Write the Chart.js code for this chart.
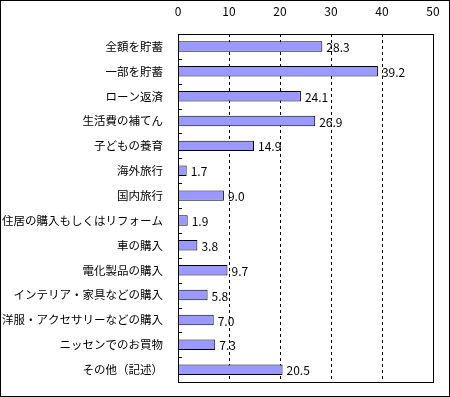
<!DOCTYPE html>
<html><head><meta charset="utf-8">
<script src="https://cdn.jsdelivr.net/npm/chart.js@4"></script>
<style>
html,body{margin:0;padding:0;background:#fff;}
#wrap{width:448px;height:395px;border:1px solid #000;position:relative;}
</style></head>
<body><div id="wrap"><canvas id="c" width="448" height="395"></canvas></div>
<script>
const categories = ["全額を貯蓄","一部を貯蓄","ローン返済","生活費の補てん","子どもの養育","海外旅行","国内旅行","住居の購入もしくはリフォーム","車の購入","電化製品の購入","インテリア・家具などの購入","洋服・アクセサリーなどの購入","ニッセンでのお買物","その他（記述）"];
const values = [28.3,39.2,24.1,26.9,14.9,1.7,9.0,1.9,3.8,9.7,5.8,7.0,7.3,20.5];
const xTicks = [0,10,20,30,40,50];
const FONT = '"MS PGothic","Noto Sans CJK JP",sans-serif';

const frame = {
  id:'frame',
  beforeDatasetsDraw(chart){
    const {ctx, chartArea:a} = chart;
    const x = chart.scales.x;
    ctx.save();
    ctx.strokeStyle='#000'; ctx.lineWidth=1;
    ctx.setLineDash([3,3]);
    ctx.beginPath();
    xTicks.forEach(v=>{
      if(v===0||v===50) return;
      const xx = Math.round(x.getPixelForValue(v))+0.5;
      ctx.moveTo(xx,a.top); ctx.lineTo(xx,a.bottom);
    });
    ctx.stroke();
    ctx.restore();
  },
  afterDraw(chart){
    const {ctx, chartArea:a} = chart;
    ctx.save();
    ctx.strokeStyle='#000'; ctx.lineWidth=1;
    ctx.strokeRect(Math.round(a.left)+0.5, Math.round(a.top)+0.5, Math.round(a.right-a.left), Math.round(a.bottom-a.top));
    const n = categories.length;
    const step = (a.bottom-a.top)/n;
    ctx.beginPath();
    for(let i=1;i<n;i++){
      const yy = Math.round(a.top+step*i)+0.5;
      ctx.moveTo(a.left, yy); ctx.lineTo(a.left+4, yy);
    }
    ctx.stroke();
    ctx.restore();
  }
};
const labels = {
  id:'vlabels',
  afterDatasetsDraw(chart){
    const {ctx} = chart;
    const meta = chart.getDatasetMeta(0);
    ctx.save();
    ctx.fillStyle='#000';
    ctx.font='12px '+FONT;
    ctx.textBaseline='middle';
    ctx.textAlign='left';
    meta.data.forEach((bar,i)=>{
      ctx.fillText(values[i].toFixed(1), bar.x+4, bar.y+1);
    });
    ctx.restore();
  }
};

new Chart(document.getElementById('c'),{
  type:'bar',
  data:{labels:categories,datasets:[{data:values,backgroundColor:'#9999FF',borderColor:'#000',borderWidth:1,categoryPercentage:0.42,barPercentage:1}]},
  options:{
    indexAxis:'y',
    responsive:false,
    animation:false,
    layout:{padding:{left:0,right:16,top:0,bottom:6}},
    plugins:{legend:{display:false},tooltip:{enabled:false}},
    scales:{
      x:{
        position:'top',
        min:0,max:50,
        afterBuildTicks(s){ s.ticks = xTicks.map(v=>({value:v})); },
        afterFit(s){ s.height = 33; },
        ticks:{color:'#000',font:{family:FONT,size:12},padding:7,maxRotation:0},
        grid:{display:false},
        border:{display:false},
      },
      y:{
        afterFit(s){ s.width = 177; },
        ticks:{color:'#000',font:{family:FONT,size:11.5},padding:7,autoSkip:false},
        grid:{display:false},
        border:{display:false}
      }
    }
  },
  plugins:[frame,labels]
});
</script></body></html>
